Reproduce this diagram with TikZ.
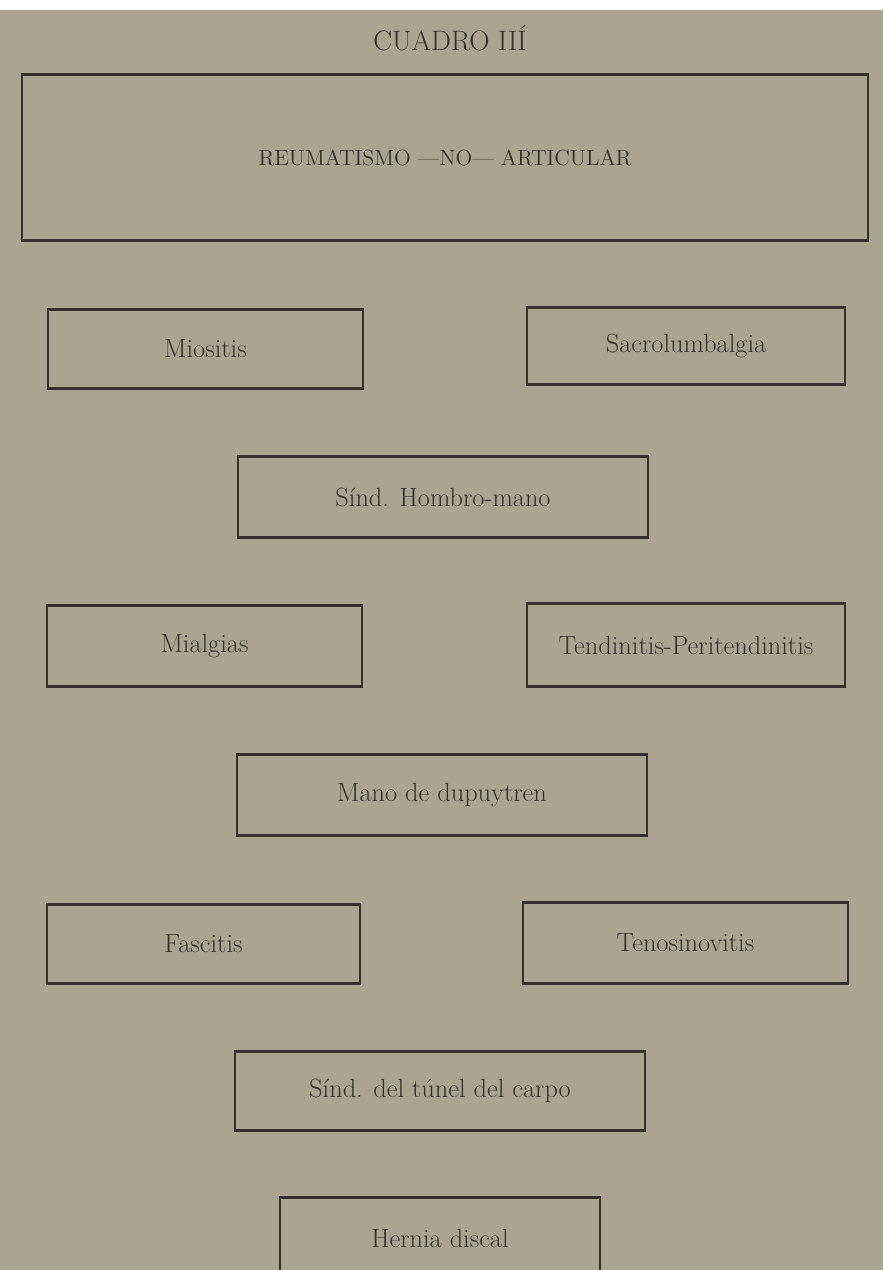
\documentclass[tikz,border=0pt]{standalone}
\usepackage{tikz}

\definecolor{papel}{RGB}{169,165,145}
\definecolor{tinta}{RGB}{52,50,42}

\tikzset{
  caja/.style={draw=tinta, line width=0.9pt, text=tinta, inner sep=0pt,
    font=\fontsize{15}{18}\selectfont},
  borde/.style={draw=tinta, line width=1.6pt}
}

\begin{document}
\begin{tikzpicture}
			\useasboundingbox (0,0) rectangle (17.66,-25.4);
			\clip (0,0) rectangle (17.66,-25.4);
			\fill[papel] (0,-0.2) rectangle (17.66,-25.4);
			
			\node (titulo) [text=tinta, font=\fontsize{16}{19}\selectfont] at (9.0,-0.76) {CUADRO II\'I};
			
			\node (raiz) [caja, minimum width=16.92cm, minimum height=3.3cm, font=\fontsize{12.5}{15}\selectfont] at (8.9,-3.15) {REUMATISMO ---NO--- ARTICULAR};
			
			\node (miositis) [caja, minimum width=6.3cm, minimum height=1.56cm] at (4.11,-6.98) {Miositis};
			\node (sacro) [caja, minimum width=6.36cm, minimum height=1.52cm] at (13.72,-6.92) {Sacrolumbalgia};
			\node (hombro) [caja, minimum width=8.2cm, minimum height=1.6cm] at (8.86,-9.94) {S\'ind. Hombro-mano};
			\node (mialgias) [caja, minimum width=6.3cm, minimum height=1.6cm] at (4.09,-12.92) {Mialgias};
			\node (tendinitis) [caja, minimum width=6.36cm, minimum height=1.64cm] at (13.72,-12.9) {Tendinitis-Peritendinitis};
			\node (dupuytren) [caja, minimum width=8.2cm, minimum height=1.6cm] at (8.84,-15.9) {Mano de dupuytren};
			\node (fascitis) [caja, minimum width=6.26cm, minimum height=1.56cm] at (4.07,-18.88) {Fascitis};
			\node (tenosinovitis) [caja, minimum width=6.5cm, minimum height=1.6cm] at (13.71,-18.86) {Tenosinovitis};
			\node (carpo) [caja, minimum width=8.2cm, minimum height=1.56cm] at (8.8,-21.82) {S\'ind. del t\'unel del carpo};
			\node (hernia) [caja, minimum width=6.4cm, minimum height=1.6cm] at (8.8,-24.76) {Hernia discal};
			
			% lineas horizontales mas gruesas
			\foreach \n in {raiz,miositis,sacro,hombro,mialgias,tendinitis,dupuytren,fascitis,tenosinovitis,carpo,hernia} {
				\path (\n.north west) edge [borde] (\n.north east);
				\path (\n.south west) edge [borde] (\n.south east);
			}
			\end{tikzpicture}
\end{document}
